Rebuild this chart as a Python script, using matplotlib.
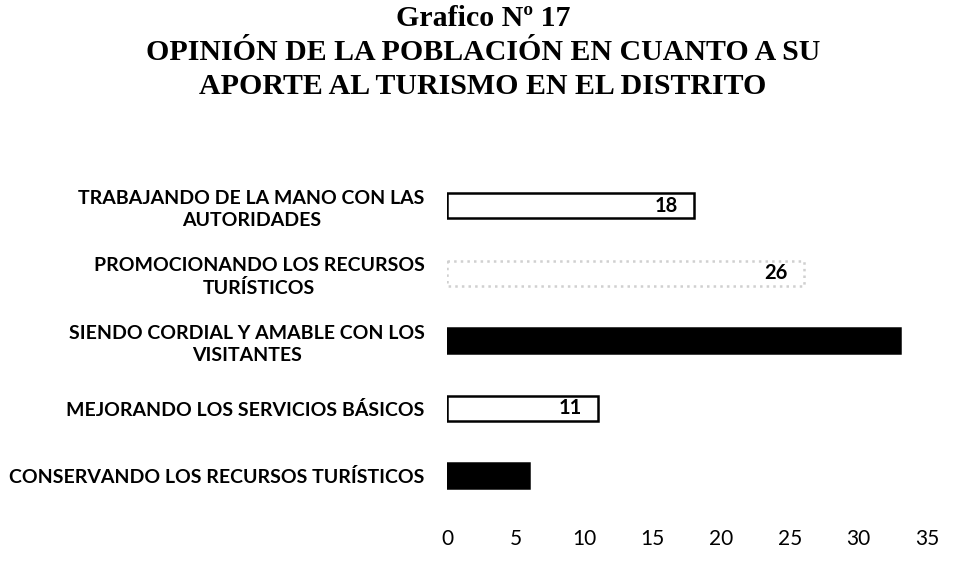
import numpy as np
import matplotlib.pyplot as plt

plt.switch_backend('agg')

categories = [
    'TRABAJANDO DE LA MANO CON LAS\nAUTORIDADES',
    'PROMOCIONANDO LOS RECURSOS\nTURÍSTICOS',
    'SIENDO CORDIAL Y AMABLE CON LOS\nVISITANTES',
    'MEJORANDO LOS SERVICIOS BÁSICOS',
    'CONSERVANDO LOS RECURSOS TURÍSTICOS',
]
values = [18, 26, 33, 11, 6]
fills = ['white', 'white', 'black', 'white', 'black']
edges = ['black', '#d0d0d0', 'black', 'black', 'black']
edge_styles = ['-', ':', '-', '-', '-']
show_label = [True, True, False, True, False]
xticks = [0, 5, 10, 15, 20, 25, 30, 35]

sans = ['Lato', 'DejaVu Sans']
serif = ['Liberation Serif', 'DejaVu Serif']

fig = plt.figure(figsize=(9.66, 5.66), dpi=100)
ax = fig.add_axes([0.4627, 0.0919, 0.4969, 0.5919])

y = np.arange(len(categories))
for i in range(len(categories)):
    ax.barh(y[i], values[i], height=0.37, color=fills[i], edgecolor=edges[i],
            linewidth=1.8, linestyle=edge_styles[i])
    if show_label[i]:
        ax.text(values[i] - 1.15, y[i], str(values[i]), ha='right', va='center',
                fontsize=14.5, fontweight='bold', family=sans)

ax.set_xlim(0, 35)
ax.set_ylim(4.565, -0.4)
ax.set_xticks(xticks)
ax.set_xticklabels([str(t) for t in xticks], fontsize=15, family=sans)
ax.set_yticks(y)
ax.set_yticklabels(categories, fontsize=14, fontweight='bold', family=sans,
                   ha='right', multialignment='center', linespacing=1.3)
ax.tick_params(axis='both', length=0)
ax.tick_params(axis='x', pad=11)
ax.tick_params(axis='y', pad=16)
for s in ax.spines.values():
    s.set_visible(False)

title_lines = ['Grafico Nº 17',
               'OPINIÓN DE LA POBLACIÓN EN CUANTO A SU',
               'APORTE AL TURISMO EN EL DISTRITO']
for k, line in enumerate(title_lines):
    fig.text(0.5, 1 - (18 + 34.5 * k) / 566, line, ha='center', va='center',
             fontsize=21.5, fontweight='bold', family=serif)

fig.savefig('out.png', dpi=100, facecolor='white')
